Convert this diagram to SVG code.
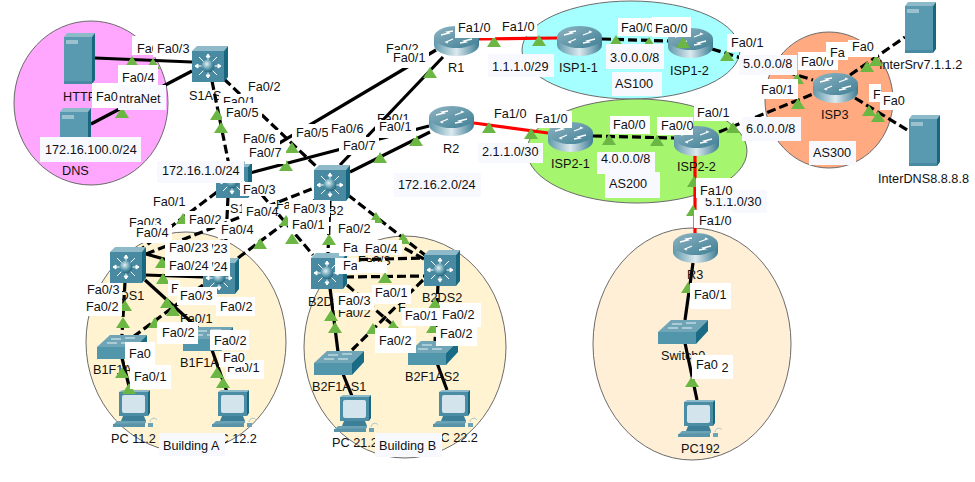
<svg xmlns="http://www.w3.org/2000/svg" xmlns:xlink="http://www.w3.org/1999/xlink" width="975" height="482" viewBox="0 0 975 482">
<style>
text{font-family:"Liberation Sans",Arial,sans-serif;font-size:12.7px;fill:#111}
.a{stroke:#6b6b6b;stroke-width:1}
.c line{stroke:#000;stroke-width:3.200;fill:none}
.c .d{stroke-dasharray:9 4}
.c .r{stroke:#f00}
.w{fill:#fff}
.p{fill:#f8f9ff}
</style>
<defs>
<linearGradient id="cyl" x1="0" x2="1" y1="0" y2="0"><stop offset="0" stop-color="#5f98ab"/><stop offset=".5" stop-color="#dbe9ee"/><stop offset="1" stop-color="#3c7c92"/></linearGradient>
<linearGradient id="top" x1="0" x2="1" y1="0" y2="1"><stop offset="0" stop-color="#8fb4c2"/><stop offset="1" stop-color="#3f7f95"/></linearGradient>
<radialGradient id="ball" cx=".4" cy=".35" r=".7"><stop offset="0" stop-color="#e2f0f4"/><stop offset=".6" stop-color="#4f92a8"/><stop offset="1" stop-color="#1e5a6e"/></radialGradient>
<symbol id="t" viewBox="0 0 14 11" width="14" height="11"><polygon points="7,0 14,11 0,11" fill="#6cb644"/></symbol>
<symbol id="router" viewBox="0 0 45 30" width="45" height="30">
<path d="M0 11V19C0 25 10 30 22.500 30S45 25 45 19V11Z" fill="url(#cyl)"/>
<ellipse cx="22.500" cy="11" rx="22.500" ry="11" fill="url(#top)"/>
<path d="M7 9l8-2-2-1 6-1M38 13l-8 2 2 1-6 1M26 9l8-3-2-1M19 13l-7 3 2 1" stroke="#fff" stroke-width="1.300" fill="none"/>
</symbol>
<symbol id="ml" viewBox="0 0 36 36" width="36" height="36">
<polygon points="0,5 5,0 36,0 32,5" fill="#8fbac9"/>
<polygon points="32,5 36,0 36,31 32,36" fill="#19677f"/>
<rect x="0" y="5" width="32" height="31" fill="#478aa1"/>
<path d="M16 8V31M3 20H29M7 11L25 29M25 11L7 29M16 8l-2 3h4zM16 32l-2-3h4zM3 20l3-2v4zM29 20l-3-2v4z" stroke="#fff" stroke-width="1" fill="#fff"/>
<circle cx="16" cy="20" r="6.500" fill="url(#ball)"/>
</symbol>
<symbol id="sw" viewBox="0 0 50 24" width="50" height="24">
<polygon points="0,12 13,0 50,0 38,12" fill="#6fa5b7"/>
<polygon points="38,12 50,0 50,11 38,24" fill="#1a6c86"/>
<rect x="0" y="12" width="38" height="12" fill="#5296ac"/>
<path d="M14 4h10M28 3h10M10 8h10M24 8h10" stroke="#e6f2f5" stroke-width="1"/>
</symbol>
<symbol id="srv" viewBox="0 0 31 51" width="31" height="51">
<polygon points="0,4 3,0 31,0 28,4" fill="#8dbac9"/>
<polygon points="28,4 31,0 31,47 28,51" fill="#19677f"/>
<rect x="0" y="4" width="28" height="47" fill="#5a9ab0"/>
<rect x="2" y="7" width="12" height="4" fill="#9cc1ce"/>
<rect x="0" y="48" width="28" height="3" fill="#478aa1"/>
</symbol>
<symbol id="pc" viewBox="0 0 44 37" width="44" height="37">
<polygon points="6,2 9,0 37,0 35,2" fill="#8dbac9"/>
<polygon points="35,2 37,0 37,23 35,26" fill="#19677f"/>
<rect x="6" y="2" width="29" height="24" fill="#4a8da4"/>
<rect x="9" y="5" width="23" height="18" rx="2" fill="#d4e4ec"/>
<polygon points="10,26 31,26 33,31 8,31" fill="#3c7f96"/>
<polygon points="4,31 33,31 33,33 0,37 0,35" fill="#6ba2b5"/>
<polygon points="0,34 32,33 32,37 0,37" fill="#5a94a8"/>
<rect x="35" y="33" width="5" height="4" fill="#6ba2b5"/>
<path d="M37 32c0-4 6-5 7-2" stroke="#a8c5d0" fill="none"/>
</symbol>
</defs>

<g id="areas">
<ellipse class="a" cx="91" cy="103" rx="77" ry="82" fill="#ffa6ff"/>
<ellipse class="a" cx="631" cy="50" rx="109" ry="49" fill="#a6ffff"/>
<ellipse class="a" cx="637" cy="151" rx="110" ry="52" fill="#a6f56e"/>
<ellipse class="a" cx="829" cy="100" rx="64" ry="68" fill="#ffaa80"/>
<ellipse class="a" cx="186" cy="342" rx="100" ry="110" fill="#fff3d2"/>
<ellipse class="a" cx="405" cy="347" rx="101" ry="111" fill="#fff3d2"/>
<ellipse class="a" cx="692" cy="344" rx="99" ry="116" fill="#ffefd7"/>
</g>

<g id="connectors" class="c">
<line x1="95" y1="58" x2="192" y2="62"/>
<line x1="91" y1="124" x2="192" y2="71"/>
<line class="d" x1="212" y1="81" x2="229" y2="165"/>
<line class="d" x1="224" y1="79" x2="320" y2="170"/>
<line x1="436" y1="50" x2="234" y2="170"/>
<line x1="443" y1="57" x2="340" y2="165"/>
<line x1="429" y1="126" x2="250" y2="173"/>
<line x1="430" y1="132" x2="350" y2="172"/>
<line class="d" x1="217" y1="192" x2="140" y2="250"/>
<line class="d" x1="228" y1="197" x2="225" y2="258"/>
<line class="d" x1="146" y1="254" x2="314" y2="188"/>
<line class="d" x1="238" y1="258" x2="322" y2="195"/>
<line class="d" x1="245" y1="175" x2="313" y2="255"/>
<line class="d" x1="330" y1="200" x2="328" y2="253"/>
<line class="d" x1="348" y1="195" x2="425" y2="255"/>
<line class="d" x1="424" y1="259" x2="402" y2="247"/>
<line class="d" x1="345" y1="277" x2="424" y2="276"/>
<line class="d" x1="346" y1="260" x2="424" y2="258"/>
<line class="d" x1="347" y1="285" x2="410" y2="340"/>
<line class="d" x1="423" y1="280" x2="352" y2="350"/>
<line x1="330" y1="288" x2="338" y2="352"/>
<line class="d" x1="438" y1="285" x2="435" y2="342"/>
<line x1="343" y1="374" x2="352" y2="396"/>
<line x1="437" y1="363" x2="447" y2="390"/>
<line class="d" x1="125" y1="282" x2="122" y2="335"/>
<line x1="145" y1="280" x2="200" y2="330"/>
<line class="d" x1="203" y1="285" x2="133" y2="337"/>
<line x1="146" y1="254" x2="203" y2="270"/>
<line x1="145" y1="275" x2="203" y2="277"/>
<line x1="122" y1="358" x2="130" y2="390"/>
<line x1="212" y1="350" x2="227" y2="392"/>
<line class="r" x1="479" y1="39" x2="557" y2="38"/>
<line class="r" x1="474" y1="123" x2="548" y2="133"/>
<line class="r" x1="695" y1="155" x2="695" y2="233"/>
<line class="d" x1="602" y1="39" x2="668" y2="41"/>
<line class="d" x1="593" y1="136" x2="674" y2="138"/>
<line class="d" x1="712" y1="49" x2="813" y2="80"/>
<line class="d" x1="719" y1="132" x2="813" y2="94"/>
<line class="d" x1="850" y1="75" x2="905" y2="37"/>
<line class="d" x1="855" y1="98" x2="909" y2="131"/>
<line x1="693" y1="263" x2="685" y2="320"/>
<line x1="685" y1="343" x2="697" y2="400"/>
</g>

<g id="HTTP"><use href="#srv" x="64" y="33"/><text x="63" y="101">HTTP</text></g>
<g id="DNS"><use href="#srv" x="60" y="108"/><text x="62" y="175">DNS</text></g>
<g id="S1AS"><use href="#ml" x="192" y="46"/><text x="189" y="100">S1AS</text></g>
<g id="S1"><use href="#ml" x="216" y="162"/><text x="230" y="213">S1DS1</text></g>
<g id="S2"><use href="#ml" x="314" y="165"/><text x="328" y="215">B2</text></g>
<g id="B1DS1"><use href="#ml" x="110" y="247"/><text x="104" y="300">B1DS1</text></g>
<g id="B1DS2"><use href="#ml" x="203" y="258"/></g>
<g id="B2DS1"><use href="#ml" x="311" y="253"/><text x="308" y="306">B2DS1</text></g>
<g id="B2DS2"><use href="#ml" x="424" y="250"/><text x="422" y="302">B2DS2</text></g>
<g id="R1"><use href="#router" x="434" y="26"/><text x="448" y="72">R1</text></g>
<g id="R2"><use href="#router" x="429" y="106"/><text x="443" y="153">R2</text></g>
<g id="ISP1-1"><use href="#router" x="557" y="26"/><text x="559" y="72">ISP1-1</text></g>
<g id="ISP1-2"><use href="#router" x="668" y="28"/><text x="670" y="75">ISP1-2</text></g>
<g id="ISP2-1"><use href="#router" x="548" y="122"/><text x="551" y="168">ISP2-1</text></g>
<g id="ISP2-2"><use href="#router" x="674" y="126"/><text x="677" y="171">ISP2-2</text></g>
<g id="ISP3"><use href="#router" x="813" y="73"/><text x="821" y="119">ISP3</text></g>
<g id="R3"><use href="#router" x="673" y="233"/><text x="687" y="279">R3</text></g>
<g id="Switch0"><use href="#sw" x="658" y="320"/><text x="661" y="360">Switch0</text></g>
<g id="PC192"><use href="#pc" x="678" y="400"/><text x="681" y="453">PC192</text></g>
<g id="B1F1AS1"><use href="#sw" x="97" y="335"/><text x="93" y="374">B1F1AS1</text></g>
<g id="B1F1AS2"><use href="#sw" x="183" y="327"/><text x="180" y="367">B1F1AS2</text></g>
<g id="B2F1AS1"><use href="#sw" x="314" y="351"/><text x="312" y="391">B2F1AS1</text></g>
<g id="B2F1AS2"><use href="#sw" x="408" y="341"/><text x="405" y="381">B2F1AS2</text></g>
<g id="PC11"><use href="#pc" x="113" y="390"/><text x="111" y="443">PC 11.2</text></g>
<g id="PC12"><use href="#pc" x="212" y="390"/><text x="211" y="443">PC 12.2</text></g>
<g id="PC21"><use href="#pc" x="334" y="395"/><text x="332" y="447">PC 21.2</text></g>
<g id="PC22"><use href="#pc" x="433" y="390"/><text x="432" y="442">PC 22.2</text></g>
<g id="InterSrv"><use href="#srv" x="905" y="2"/><text x="879" y="69">InterSrv7.1.1.2</text></g>
<g id="InterDNS"><use href="#srv" x="909" y="115"/><text x="878" y="183">InterDNS8.8.8.8</text></g>

<g id="ports">
<use href="#t" x="125" y="56"/><use href="#t" x="146" y="58"/><use href="#t" x="115" y="107"/><use href="#t" x="210" y="109"/><use href="#t" x="214" y="122"/><use href="#t" x="285" y="142"/><use href="#t" x="279" y="160"/><use href="#t" x="279" y="215"/><use href="#t" x="285" y="233"/><use href="#t" x="253" y="238"/><use href="#t" x="155" y="257"/><use href="#t" x="156" y="273"/><use href="#t" x="160" y="297"/><use href="#t" x="118" y="300"/><use href="#t" x="116" y="317"/><use href="#t" x="148" y="317"/><use href="#t" x="166" y="305"/><use href="#t" x="176" y="213"/>
<use href="#t" x="322" y="234"/><use href="#t" x="369" y="212"/><use href="#t" x="396" y="233"/><use href="#t" x="378" y="272"/><use href="#t" x="324" y="310"/><use href="#t" x="328" y="322"/><use href="#t" x="366" y="323"/><use href="#t" x="386" y="320"/><use href="#t" x="428" y="298"/><use href="#t" x="426" y="322"/>
<use href="#t" x="115" y="367"/><use href="#t" x="122" y="383"/><use href="#t" x="210" y="367"/><use href="#t" x="216" y="377"/>
<use href="#t" x="487" y="36"/><use href="#t" x="532" y="35"/><use href="#t" x="609" y="35"/><use href="#t" x="423" y="67"/><use href="#t" x="482" y="122"/><use href="#t" x="524" y="128"/><use href="#t" x="602" y="134"/><use href="#t" x="409" y="135"/><use href="#t" x="373" y="152"/>
<use href="#t" x="642" y="37"/><use href="#t" x="676" y="37"/><use href="#t" x="720" y="50"/><use href="#t" x="650" y="135"/><use href="#t" x="726" y="122"/><use href="#t" x="687" y="176"/><use href="#t" x="686" y="205"/><use href="#t" x="790" y="73"/><use href="#t" x="791" y="98"/><use href="#t" x="860" y="61"/><use href="#t" x="869" y="55"/><use href="#t" x="862" y="105"/><use href="#t" x="871" y="111"/><use href="#t" x="681" y="282"/><use href="#t" x="685" y="376"/>
</g>

<g id="labels">
<rect class="p" x="118" y="85" width="48" height="25"/><text x="119" y="103">ntraNet</text>
<rect class="w" x="132" y="36" width="30" height="19"/><text x="137" y="53">Fa0</text>
<rect class="w" x="153" y="36" width="39" height="21"/><text x="157" y="53">Fa0/3</text>
<rect class="w" x="118" y="65" width="40" height="20"/><text x="122" y="82">Fa0/4</text>
<rect class="w" x="92" y="83" width="26" height="25"/><text x="96" y="101">Fa0</text>
<rect class="p" x="40" y="137" width="101" height="25"/><text x="45" y="154">172.16.100.0/24</text>
<rect class="w" x="243" y="78" width="39" height="18"/><text x="248" y="91">Fa0/2</text>
<rect class="w" x="219" y="94" width="40" height="12"/><text x="223" y="106">Fa0/1</text>
<rect class="w" x="222" y="103" width="40" height="20"/><text x="226" y="117">Fa0/5</text>
<rect class="w" x="240" y="130" width="40" height="16"/><text x="243" y="143">Fa0/6</text>
<rect class="w" x="245" y="145" width="41" height="19"/><text x="249" y="157">Fa0/7</text>
<rect class="w" x="292" y="124" width="38" height="17"/><text x="296" y="137">Fa0/5</text>
<rect class="w" x="328" y="122" width="38" height="16"/><text x="331" y="133">Fa0/6</text>
<rect class="w" x="339" y="137" width="40" height="18"/><text x="343" y="150">Fa0/7</text>
<text x="377" y="123">Fa0/1</text>
<rect class="w" x="375" y="120" width="41" height="18"/><text x="379" y="131">Fa0/1</text>
<text x="386" y="53">Fa0/2</text>
<rect class="w" x="389" y="50" width="40" height="18"/><text x="393" y="62">Fa0/1</text>
<rect class="w" x="455" y="20" width="40" height="18"/><text x="458" y="32">Fa1/0</text>
<rect class="w" x="498" y="18" width="39" height="18"/><text x="502" y="31">Fa1/0</text>
<rect class="w" x="618" y="18" width="40" height="18"/><text x="621" y="32">Fa0/0</text>
<rect class="w" x="652" y="17" width="39" height="20"/><text x="655" y="33">Fa0/0</text>
<rect class="p" x="488" y="54" width="66" height="23"/><text x="492" y="71">1.1.1.0/29</text>
<rect class="p" x="606" y="44" width="58" height="25"/><text x="610" y="62">3.0.0.0/8</text>
<rect class="p" x="612" y="72" width="50" height="24"/><text x="615" y="88">AS100</text>
<rect class="w" x="727" y="34" width="40" height="18"/><text x="731" y="47">Fa0/1</text>
<rect class="p" x="739" y="55" width="58" height="20"/><text x="743" y="68">5.0.0.0/8</text>
<rect class="w" x="798" y="52" width="40" height="18"/><text x="801" y="66">Fa0/0</text>
<rect class="w" x="826" y="42" width="22" height="18"/><text x="830" y="57">Fa</text>
<rect class="w" x="848" y="40" width="30" height="17"/><text x="852" y="51">Fa0</text>
<rect class="w" x="758" y="79" width="40" height="20"/><text x="761" y="94">Fa0/1</text>
<rect class="p" x="742" y="117" width="59" height="24"/><text x="746" y="133">6.0.0.0/8</text>
<rect class="w" x="869" y="84" width="12" height="18"/><text x="873" y="99">F</text>
<rect class="w" x="880" y="92" width="30" height="18"/><text x="883" y="105">Fa0</text>
<rect class="p" x="809" y="141" width="47" height="24"/><text x="813" y="157">AS300</text>
<rect class="w" x="694" y="105" width="40" height="16"/><text x="697" y="117">Fa0/1</text>
<rect class="w" x="610" y="116" width="40" height="18"/><text x="613" y="129">Fa0/0</text>
<rect class="w" x="657" y="117" width="36" height="18"/><text x="661" y="130">Fa0/0</text>
<rect class="p" x="597" y="152" width="58" height="22"/><text x="601" y="163">4.0.0.0/8</text>
<rect class="p" x="605" y="172" width="55" height="26"/><text x="609" y="188">AS200</text>
<rect class="w" x="491" y="106" width="40" height="17"/><text x="494" y="118">Fa1/0</text>
<rect class="w" x="532" y="111" width="40" height="17"/><text x="535" y="123">Fa1/0</text>
<rect class="p" x="478" y="143" width="65" height="20"/><text x="482" y="156">2.1.1.0/30</text>
<rect class="p" x="394" y="173" width="87" height="24"/><text x="398" y="189">172.16.2.0/24</text>
<rect class="p" x="704" y="190" width="63" height="23"/><text x="705" y="206">5.1.1.0/30</text>
<rect class="w" x="696" y="178" width="37" height="20"/><text x="700" y="195">Fa1/0</text>
<rect class="w" x="694" y="210" width="38" height="18"/><text x="699" y="225">Fa1/0</text>
<rect class="w" x="690" y="283" width="41" height="26"/><text x="694" y="299">Fa0/1</text>
<rect class="w" x="695" y="355" width="38" height="24"/><text x="696" y="372">Fa0/2</text>
<rect class="w" x="692" y="355" width="30" height="24"/><text x="696" y="369">Fa0</text>

<rect class="p" x="157" y="161" width="87" height="22"/><text x="162" y="175">172.16.1.0/24</text>
<rect class="w" x="240" y="182" width="40" height="14"/><text x="243" y="194">Fa0/3</text>
<rect class="w" x="150" y="193" width="40" height="17"/><text x="153" y="206">Fa0/1</text>
<text x="129" y="227">Fa0/3</text>
<rect class="w" x="185" y="211" width="38" height="17"/><text x="189" y="224">Fa0/2</text>
<rect class="w" x="132" y="225" width="40" height="18"/><text x="136" y="237">Fa0/4</text>
<rect class="w" x="218" y="222" width="40" height="17"/><text x="221" y="234">Fa0/4</text>
<text x="276" y="209">Fa0/2</text>
<rect class="w" x="242" y="204" width="34" height="18"/><text x="246" y="216">Fa0/4</text>
<rect class="w" x="289" y="200" width="41" height="17"/><text x="293" y="213">Fa0/3</text>
<rect class="w" x="288" y="217" width="41" height="17"/><text x="292" y="229">Fa0/1</text>
<rect class="w" x="185" y="240" width="45" height="36"/><text x="188" y="253">Fa0/23</text><text x="188" y="271">Fa0/24</text>
<rect class="w" x="165" y="240" width="47" height="19"/><text x="169" y="252">Fa0/23</text>
<rect class="w" x="165" y="258" width="47" height="18"/><text x="169" y="270">Fa0/24</text>
<rect class="w" x="84" y="283" width="38" height="16"/><text x="87" y="294">Fa0/3</text>
<rect class="w" x="84" y="299" width="38" height="17"/><text x="86" y="311">Fa0/2</text>
<rect class="w" x="168" y="280" width="12" height="16"/><text x="171" y="293">F</text>
<rect class="w" x="177" y="287" width="40" height="18"/><text x="180" y="300">Fa0/3</text>
<text x="180" y="323">Fa0/1</text>
<rect class="w" x="216" y="297" width="39" height="19"/><text x="220" y="311">Fa0/2</text>
<rect class="w" x="157" y="322" width="41" height="22"/><text x="162" y="337">Fa0/2</text>
<rect class="w" x="210" y="330" width="39" height="20"/><text x="214" y="345">Fa0/2</text>
<rect class="w" x="125" y="342" width="30" height="23"/><text x="129" y="358">Fa0</text>
<rect class="w" x="130" y="365" width="41" height="24"/><text x="134" y="381">Fa0/1</text>
<rect class="w" x="226" y="360" width="38" height="19"/><text x="227" y="372">Fa0/1</text>
<rect class="w" x="219" y="352" width="26" height="15"/><text x="223" y="362">Fa0</text>
<rect class="p" x="159" y="433" width="66" height="23"/><text x="163" y="450">Building A</text>
<rect class="p" x="375" y="433" width="67" height="24"/><text x="379" y="450">Building B</text>

<rect class="w" x="335" y="220" width="40" height="18"/><text x="338" y="233">Fa0/2</text>
<rect class="w" x="339" y="240" width="24" height="16"/><text x="343" y="252">Fa</text>
<rect class="w" x="335" y="258" width="22" height="16"/><text x="343" y="270">Fa</text>
<text x="358" y="265">Fa0/3</text>
<rect class="w" x="362" y="240" width="40" height="15"/><text x="365" y="253">Fa0/4</text>
<rect class="w" x="357" y="262" width="30" height="11"/>
<text x="338" y="317">Fa0/2</text>
<rect class="w" x="334" y="293" width="40" height="17"/><text x="338" y="305">Fa0/3</text>
<rect class="w" x="372" y="285" width="39" height="19"/><text x="375" y="297">Fa0/1</text>
<text x="398" y="312">F</text>
<rect class="w" x="402" y="308" width="38" height="18"/><text x="405" y="320">Fa0/1</text>
<rect class="w" x="440" y="303" width="41" height="24"/><text x="442" y="319">Fa0/2</text>
<rect class="w" x="436" y="327" width="41" height="19"/><text x="440" y="338">Fa0/2</text>
<rect class="w" x="375" y="328" width="41" height="25"/><text x="379" y="345">Fa0/2</text>
</g>
</svg>
